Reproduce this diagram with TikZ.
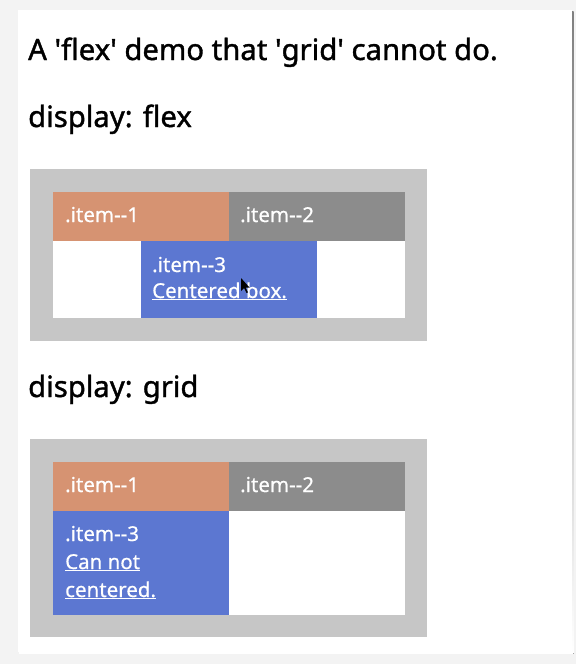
\documentclass[tikz,border=0pt]{standalone}
\usepackage{fontspec}
\setmainfont{Noto Sans}
\newfontfamily\headfont{Noto Sans}[FakeBold=1.3]
\newfontfamily\itemfont{Noto Sans}[FakeBold=0.6]
\definecolor{pagebg}{HTML}{F3F3F3}
\definecolor{shade}{HTML}{DEDEDE}
\definecolor{frame}{HTML}{C6C6C6}
\definecolor{salmon}{HTML}{D69372}
\definecolor{midgray}{HTML}{8C8C8C}
\definecolor{itemblue}{HTML}{5C77D1}
% straight quote and double hyphen, kept apart from the TeX ligatures
\newcommand{\sq}{\textquotesingle}
\newcommand{\dhy}{-\kern0pt-}
\begin{document}
\begin{tikzpicture}[x=1pt,y=-1pt,
  heading/.style={anchor=base west,inner sep=0pt,font=\headfont\fontsize{29.3}{35}\selectfont,text=black},
  itemtext/.style={anchor=base west,inner sep=0pt,font=\itemfont\fontsize{20.5}{24}\selectfont,text=white}]
\useasboundingbox (0,0) rectangle (576,664);
\fill[pagebg] (0,0) rectangle (576,664);
% page panel with a faint shadow
\fill[shade] (19,11.5) rectangle (573.5,653.5);
\fill[white] (18,10) rectangle (572,652);

% headings
\node[heading] (title) at (28,60) {A \sq flex\sq\ demo that \sq grid\sq\ cannot do.};
\node[heading] (hflex) at (28,127) {display: flex};
\node[heading] (hgrid) at (28,397) {display: grid};

% flex container
\fill[frame] (30,169) rectangle (427,341);
\fill[white] (53,192) rectangle (405,318);
\fill[salmon] (53,192) rectangle (229,241);
\fill[midgray] (229,192) rectangle (405,241);
\fill[itemblue] (141,241) rectangle (317,318);
\node[itemtext] (f1) at (65,222) {.item\dhy 1};
\node[itemtext] (f2) at (240,222) {.item\dhy 2};
\node[itemtext] (f3) at (152,272) {.item\dhy 3};
\node[itemtext] (f3b) at (152,298) {\underline{Centered box.}};
% mouse pointer
\fill[black] (241,278) -- (241,291) -- (244,288) -- (246.5,293) -- (248,292.3) -- (245.6,287.5) -- (249.5,287.5) -- cycle;

% grid container
\fill[frame] (30,439) rectangle (427,637);
\fill[white] (53,462) rectangle (405,615);
\fill[salmon] (53,462) rectangle (229,511);
\fill[midgray] (229,462) rectangle (405,511);
\fill[itemblue] (53,511) rectangle (229,615);
\node[itemtext] (g1) at (65,492) {.item\dhy 1};
\node[itemtext] (g2) at (240,492) {.item\dhy 2};
\node[itemtext] (g3) at (65,541) {.item\dhy 3};
\node[itemtext] (g3b) at (65,569) {\underline{Can not}};
\node[itemtext] (g3c) at (65,597) {\underline{centered.}};
\end{tikzpicture}
\end{document}
